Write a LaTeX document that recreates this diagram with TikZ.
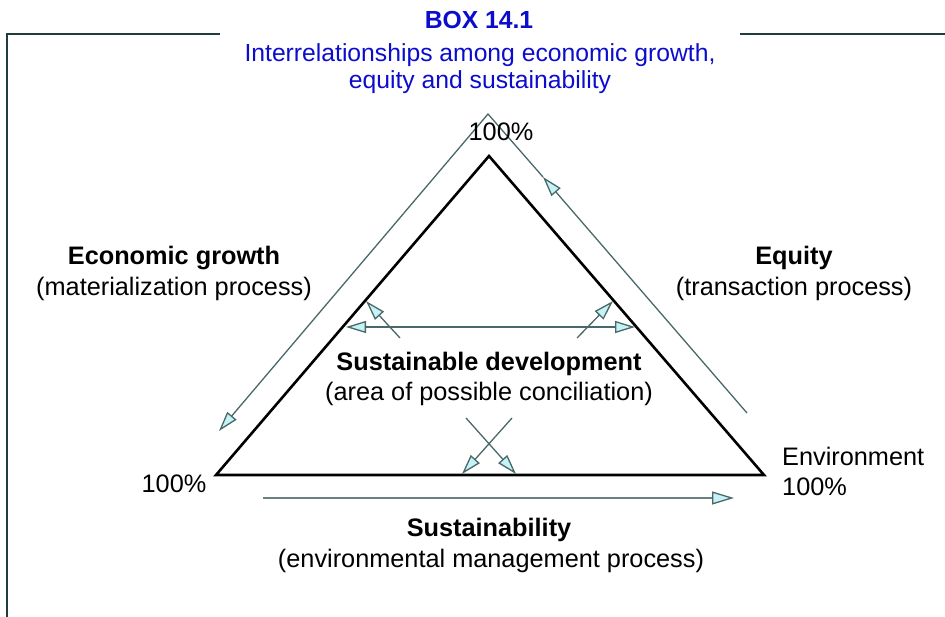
\documentclass[tikz,border=0pt]{standalone}
\usepackage{fontspec}
\setmainfont{Liberation Sans}
\usetikzlibrary{arrows.meta}
\definecolor{arrline}{HTML}{4A6868}
\definecolor{arrfill}{HTML}{C4F2F6}
\definecolor{frameline}{HTML}{1E3E3E}
\definecolor{titleblue}{HTML}{0C0CCC}
\definecolor{baseline}{HTML}{6A8282}
\tikzset{
  tip/.tip={Triangle[length=20pt,width=12pt,fill=arrfill,line width=1.3pt]},
  arr/.style={draw=arrline,line width=1.3pt,-{tip}},
  darr/.style={draw=arrline,line width=1.3pt,{tip}-{tip}},
  tri/.style={draw=black,line width=2.6pt,line join=miter},
  frame/.style={draw=frameline,line width=2.8pt},
  body/.style={font=\fontsize{25.3}{31}\selectfont,inner sep=0pt,align=center},
  bodyb/.style={font=\fontsize{25.3}{31}\selectfont\bfseries,inner sep=0pt,align=center},
  ttl/.style={font=\fontsize{24.7}{30}\selectfont,text=titleblue,inner sep=0pt,align=center},
}
\begin{document}
\begin{tikzpicture}[x=1pt,y=-1pt]
\useasboundingbox (0,0) rectangle (945,617);
% frame
\coordinate (f1) at (220,34);
\coordinate (f2) at (7,34);
\coordinate (f3) at (7,618);
\coordinate (f4) at (740,34);
\coordinate (f5) at (946,34);
\draw[frame] (f1) -- (f2) -- (f3);
\draw[frame] (f4) -- (f5);
% title
\node[ttl,font=\fontsize{24.7}{30}\selectfont\bfseries] (box) at (479,20) {BOX 14.1};
\node[ttl] (t1) at (480,55) {Interrelationships among economic growth,};
\node[ttl] (t2) at (480,82) {equity and sustainability};
% triangle
\coordinate (A) at (489,156);
\coordinate (B) at (216,475);
\coordinate (C) at (764,475);
\draw[tri] (A) -- (B) -- (C) -- cycle;
% outer arrows
\coordinate (o1) at (747,413);
\coordinate (om) at (543,177);
\coordinate (oA) at (488,114);
\coordinate (o2) at (219,431);
\draw[arr] (o1) -- (om);
\draw[arr] (om) -- (oA) -- (o2);
% bottom arrow
\coordinate (b1) at (263,498);
\coordinate (b2) at (734,498);
\draw[draw=baseline,line width=2.8pt,-{Triangle[length=22pt,width=13pt,fill=arrfill,line width=1.3pt,color=arrline]}] (b1) -- (b2);
% inner arrows
\coordinate (h1) at (346,327);
\coordinate (h2) at (635,327);
\draw[darr] (h1) -- (h2);
\coordinate (l0) at (400,338);
\coordinate (l1) at (366,301);
\draw[arr] (l0) -- (l1);
\coordinate (r0) at (577,338);
\coordinate (r1) at (613,301);
\draw[arr] (r0) -- (r1);
\coordinate (x1) at (512,418);
\coordinate (x2) at (462,474);
\draw[arr] (x1) -- (x2);
\coordinate (y1) at (466,418);
\coordinate (y2) at (516,474);
\draw[arr] (y1) -- (y2);
% labels
\node[body] (top) at (501,132) {100\%};
\node[body] (lft) at (174,484) {100\%};
\node[body,anchor=west] (env) at (782,456) {Environment};
\node[body,anchor=west] (envp) at (782,487) {100\%};
\node[bodyb] (eg) at (174,258) {Economic growth};
\node[body] (egp) at (174,289) {(materialization process)};
\node[bodyb] (eq) at (794,258) {Equity};
\node[body] (eqp) at (794,289) {(transaction process)};
\node[bodyb] (sd) at (489,364) {Sustainable development};
\node[body] (sdp) at (489,394) {(area of possible conciliation)};
\node[bodyb] (su) at (489,530) {Sustainability};
\node[body] (sup) at (491,561) {(environmental management process)};
\end{tikzpicture}
\end{document}
